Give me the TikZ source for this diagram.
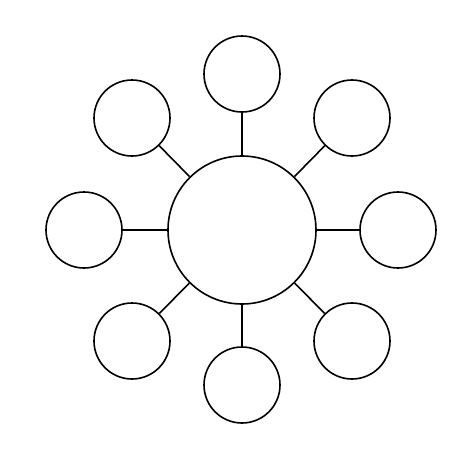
\documentclass[tikz,border=0pt]{standalone}
\begin{document}
\begin{tikzpicture}[x=1pt,y=-1pt,
  hub/.style={circle,draw=black,line width=1.6pt,minimum size=148pt,inner sep=0pt},
  sat/.style={circle,draw=black,line width=1.6pt,minimum size=76pt,inner sep=0pt},
  link/.style={draw=black,line width=1.6pt}]
\useasboundingbox[fill=white] (0,0) rectangle (467,472);
\node[hub] (c) at (242,230) {};
\node[sat] (n) at (242,74) {};
\node[sat] (s) at (242,385) {};
\node[sat] (w) at (84,230) {};
\node[sat] (e) at (398,230) {};
\node[sat] (nw) at (132,118) {};
\node[sat] (ne) at (352,118) {};
\node[sat] (sw) at (132,341) {};
\node[sat] (se) at (352,341) {};
\foreach \o in {n,s,w,e,nw,ne,sw,se}
  \draw[link] (c) -- (\o);
\end{tikzpicture}
\end{document}
